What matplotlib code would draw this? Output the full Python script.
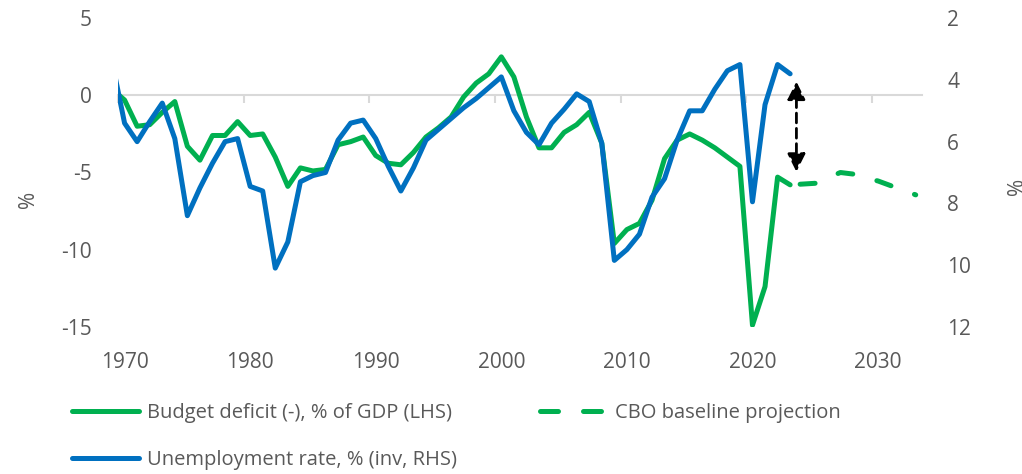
import matplotlib
matplotlib.use("Agg")
import matplotlib.pyplot as plt
from matplotlib.lines import Line2D
import numpy as np

plt.rcParams['font.family'] = ['Open Sans', 'DejaVu Sans']

# ---------------- data ----------------
hist_years = list(range(1969, 2024))
deficit_pct_gdp = [
    0.4, -0.3, -2.0, -1.9, -1.1, -0.4, -3.3, -4.2, -2.6, -2.6,   # 1969-1978
    -1.7, -2.6, -2.5, -4.0, -5.9, -4.7, -4.9, -4.8, -3.2, -3.0,  # 1979-1988
    -2.7, -3.9, -4.4, -4.5, -3.7, -2.7, -2.1, -1.4, -0.1, 0.8,   # 1989-1998
    1.4, 2.5, 1.2, -1.4, -3.4, -3.4, -2.4, -1.9, -1.1, -3.1,     # 1999-2008
    -9.6, -8.7, -8.3, -6.8, -4.1, -2.9, -2.5, -2.9, -3.4, -4.0,  # 2009-2018
    -4.6, -14.9, -12.4, -5.3, -5.8,                              # 2019-2023
]
unemployment_rate = [
    3.4, 5.4, 6.0, 5.35, 4.75, 5.9, 8.4, 7.5, 6.7, 6.0,          # 1969-1978
    5.9, 7.45, 7.6, 10.1, 9.25, 7.3, 7.1, 7.0, 5.95, 5.4,        # 1979-1988
    5.3, 5.9, 6.8, 7.6, 6.85, 5.95, 5.6, 5.25, 4.9, 4.6,         # 1989-1998
    4.25, 3.9, 5.0, 5.7, 6.1, 5.4, 4.95, 4.45, 4.7, 6.05,        # 1999-2008
    9.85, 9.5, 9.0, 7.8, 7.2, 5.95, 5.0, 5.0, 4.3, 3.7,          # 2009-2018
    3.5, 7.95, 4.8, 3.5, 3.8,                                    # 2019-2023
]
proj_years = list(range(2023, 2034))
cbo_projection = [-5.8, -5.75, -5.7, -5.35, -5.0, -5.1, -5.35, -5.55, -5.85, -6.15, -6.45]

x_tick_years = [1970, 1980, 1990, 2000, 2010, 2020, 2030]
left_ticks = [-15, -10, -5, 0, 5]
right_ticks = [2, 4, 6, 8, 10, 12]

labels = ["Budget deficit (-), % of GDP (LHS)",
          "Unemployment rate, % (inv, RHS)",
          "CBO baseline projection"]

# ---------------- style ----------------
GREEN = "#00B050"
BLUE = "#0070C0"
TXT = "#595959"
GRID = "#D9D9D9"
LW = 3.6
FS = 15

fig = plt.figure(figsize=(10.22, 4.74), dpi=100)
ax = fig.add_axes([118.3 / 1022, 1 - 326.7 / 474, (922 - 118.3) / 1022, (326.7 - 18.3) / 474])
ax2 = ax.twinx()

# annual values plotted at mid-year
xh = np.array(hist_years) + 0.5
xp = np.array(proj_years) + 0.5

ax.plot(xh, deficit_pct_gdp, color=GREEN, lw=LW, solid_joinstyle='round',
        solid_capstyle='round', zorder=3)
ax.plot(xp, cbo_projection, color=GREEN, lw=LW, linestyle=(6, (3, 5)),
        dash_capstyle='round', dash_joinstyle='round', zorder=3)
ax2.plot(xh, unemployment_rate, color=BLUE, lw=LW, solid_joinstyle='round',
         solid_capstyle='round', zorder=3)

ax.set_xlim(1970, 2034)
ax.set_ylim(-15, 5)
ax2.set_ylim(12, 2)

# tick labels (centred on the year) -- main x axis, no spine
ax.set_xticks(np.array(x_tick_years) + 0.5)
ax.set_xticklabels([str(y) for y in x_tick_years])
ax.set_yticks(left_ticks)
ax.set_yticklabels([str(v) for v in left_ticks])
ax2.set_yticks(right_ticks)
ax2.set_yticklabels([str(v) for v in right_ticks])
ax.tick_params(axis='x', length=0, pad=18, labelsize=FS, labelcolor=TXT)
ax.tick_params(axis='y', length=0, pad=19, labelsize=FS, labelcolor=TXT)
ax2.tick_params(axis='y', length=0, pad=18, labelsize=FS, labelcolor=TXT)
for a in (ax, ax2):
    for s in a.spines.values():
        s.set_visible(False)

# zero line with tick marks at the decade boundaries
ymin, ymax = ax.get_ylim()
sec = ax.secondary_xaxis((0 - ymin) / (ymax - ymin))
sec.set_alignment('bottom')
sec.set_xticks(x_tick_years)
sec.tick_params(axis='x', direction='out', length=6, width=1.5, color=GRID,
                labelbottom=False, labeltop=False)
for s in sec.spines.values():
    s.set_color(GRID)
    s.set_linewidth(1.5)

# axis titles
ax.set_ylabel('%', fontsize=FS, color=TXT)
ax.yaxis.set_label_coords(-0.0985, 0.412)
ax2.set_ylabel('%', fontsize=FS, color=TXT, rotation=90)
ax2.yaxis.set_label_coords(1.106, 0.456)

# gap arrow between the two series at the end of the history
xa = hist_years[-1] + 1.0
ax2.annotate('', xy=(xa, unemployment_rate[-1]), xycoords=ax2.transData,
             xytext=(xa, deficit_pct_gdp[-1]), textcoords=ax.transData,
             arrowprops=dict(arrowstyle='<|-|>,head_length=0.54,head_width=0.27',
                             mutation_scale=20, color='black', lw=2,
                             linestyle=(0, (3.5, 2)), shrinkA=9.4, shrinkB=5.6),
             zorder=5)

# legend
handles = [
    Line2D([], [], color=GREEN, lw=LW, solid_capstyle='round'),
    Line2D([], [], color=BLUE, lw=LW, solid_capstyle='round'),
    Line2D([], [], color=GREEN, lw=LW, linestyle=(0, (3.6, 5)), dash_capstyle='round'),
]
fig.legend(handles, labels, loc='center left', bbox_to_anchor=(72 / 1022, 1 - 436.5 / 474),
           ncol=2, frameon=False, fontsize=14.5, labelcolor=TXT,
           handlelength=3.33, handletextpad=0.37, columnspacing=4.15,
           labelspacing=1.3, borderpad=0, borderaxespad=0)

fig.savefig('out.png', dpi=100)
